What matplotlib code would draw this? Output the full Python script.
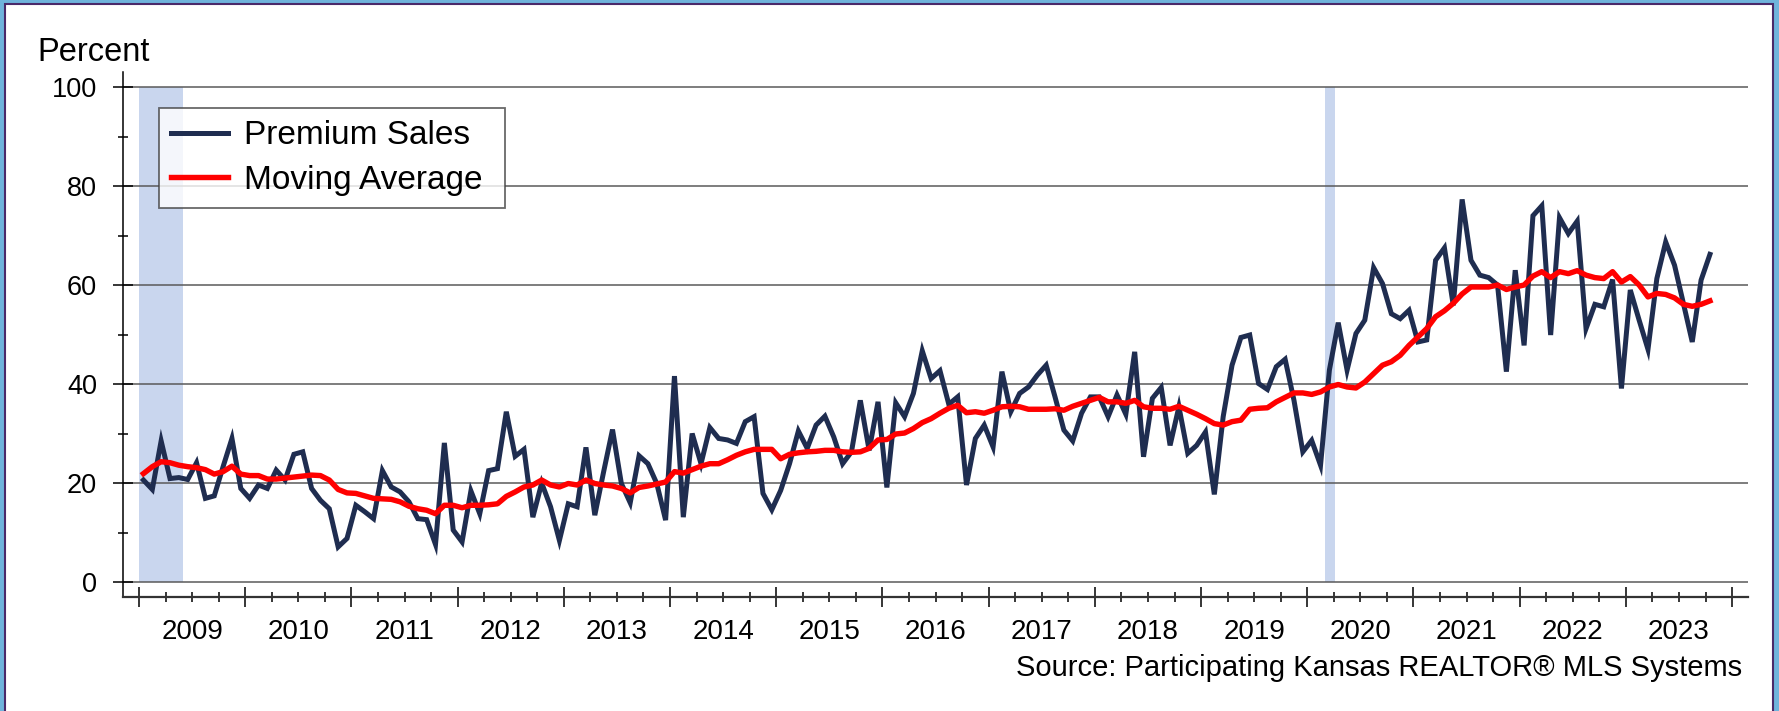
import matplotlib
matplotlib.use("Agg")
import matplotlib.pyplot as plt
from matplotlib.patches import Rectangle

plt.rcParams['font.family'] = ['Liberation Sans', 'DejaVu Sans']

# ---- data (monthly, Jan 2009 .. Oct 2023) ----
premium_sales = [
    20.6, 18.7, 28.5, 20.9, 21.1, 20.7, 24.1, 16.9, 17.4, 23.3, 29.0, 18.9,
    16.9, 19.6, 18.9, 22.6, 20.6, 25.8, 26.3, 18.9, 16.5, 14.8, 7.1, 8.8,
    15.5, 14.2, 12.8, 22.5, 19.2, 18.2, 16.2, 12.8, 12.6, 7.6, 28.1, 10.5,
    8.1, 18.4, 13.8, 22.5, 22.9, 34.4, 25.4, 26.8, 13.1, 20.0, 15.2, 8.4,
    15.8, 15.2, 27.2, 13.5, 22.3, 30.8, 19.9, 16.0, 25.5, 23.9, 19.9, 12.5,
    41.6, 13.1, 30.0, 23.9, 31.2, 29.0, 28.7, 28.0, 32.4, 33.4, 17.9, 14.6,
    18.5, 23.9, 30.5, 27.0, 31.7, 33.5, 29.3, 23.9, 26.3, 36.7, 26.6, 36.4,
    19.1, 36.2, 33.4, 38.1, 46.7, 41.1, 42.7, 35.9, 37.4, 19.6, 29.0, 31.7,
    27.3, 42.5, 34.4, 38.1, 39.4, 41.8, 43.8, 37.4, 30.7, 28.5, 34.1, 37.4,
    37.4, 33.4, 37.8, 33.9, 46.5, 25.3, 37.1, 39.3, 27.6, 35.4, 26.0, 27.6,
    30.3, 17.7, 33.4, 43.8, 49.4, 49.9, 40.1, 38.9, 43.5, 45.0, 36.7, 26.3,
    28.6, 23.6, 42.8, 52.4, 42.8, 50.2, 52.9, 63.5, 60.3, 54.2, 53.2, 54.9,
    48.5, 48.9, 65.0, 67.5, 55.9, 77.3, 65.0, 62.0, 61.5, 60.0, 42.5, 63.0,
    47.8, 74.0, 76.0, 49.9, 73.6, 70.4, 72.9, 51.2, 56.1, 55.6, 61.1, 39.1,
    59.0, 52.9, 47.0, 61.3, 68.7, 64.0, 56.3, 48.5, 61.0, 66.2,
]
moving_average = [
    21.9, 23.3, 24.3, 24.1, 23.6, 23.3, 23.1, 22.7, 21.8, 22.3, 23.4, 21.8,
    21.5, 21.5, 20.8, 20.8, 21.0, 21.2, 21.4, 21.6, 21.5, 20.6, 18.7, 18.0,
    17.9, 17.4, 16.9, 16.8, 16.7, 16.2, 15.3, 14.8, 14.5, 13.8, 15.5, 15.5,
    15.0, 15.5, 15.5, 15.6, 15.8, 17.3, 18.2, 19.2, 19.6, 20.6, 19.6, 19.2,
    19.9, 19.6, 20.6, 19.9, 19.6, 19.4, 18.9, 18.0, 19.1, 19.4, 19.8, 20.2,
    22.3, 22.0, 22.7, 23.4, 23.9, 23.9, 24.7, 25.6, 26.3, 26.8, 26.8, 26.8,
    24.9, 25.8, 26.1, 26.3, 26.4, 26.6, 26.6, 26.3, 26.2, 26.3, 27.0, 28.7,
    28.8, 29.9, 30.1, 31.0, 32.2, 33.0, 34.1, 35.1, 35.7, 34.2, 34.4, 34.1,
    34.7, 35.4, 35.5, 35.4, 34.9, 34.9, 34.9, 35.0, 34.7, 35.5, 36.1, 36.7,
    37.3, 36.4, 36.4, 36.1, 36.7, 35.4, 35.1, 35.1, 34.9, 35.5, 34.7, 33.9,
    33.0, 32.0, 31.7, 32.4, 32.7, 34.9, 35.1, 35.2, 36.4, 37.3, 38.2, 38.2,
    37.9, 38.4, 39.4, 39.9, 39.4, 39.2, 40.4, 42.1, 43.8, 44.5, 45.8, 47.8,
    49.5, 51.2, 53.6, 54.8, 56.3, 58.2, 59.6, 59.6, 59.6, 60.0, 59.1, 59.6,
    60.0, 61.8, 62.7, 61.5, 62.7, 62.3, 62.9, 62.0, 61.5, 61.3, 62.7, 60.6,
    61.7, 60.0, 57.6, 58.3, 58.1, 57.4, 56.1, 55.7, 56.1, 56.8,
]
years = list(range(2009, 2024))
recessions = [(0, 5), (134, 135.1)]   # months since Jan 2009
y_ticks = [0, 20, 40, 60, 80, 100]

months = [i + 0.5 for i in range(len(premium_sales))]

W, H = 1779, 711
fig = plt.figure(figsize=(W / 100, H / 100), dpi=100)
fig.patch.set_facecolor('#6fb4dc')
fig.add_artist(Rectangle((5 / W, -0.01), 1768 / W, 1 - 4 / H + 0.01,
                         transform=fig.transFigure, facecolor='white',
                         edgecolor='#4a2a6a', linewidth=1.5, zorder=0))

ax = fig.add_axes([123 / W, 114 / H, 1625 / W, 525.3 / H])
ax.set_facecolor('none')

ax.set_xlim(-1.81, 181.8)
ax.set_ylim(-3.03, 103.1)

for a, b in recessions:
    ax.fill_between([a, b], [0, 0], [100, 100], color='#c9d6ee', lw=0,
                    zorder=0)

for yv in y_ticks:
    ax.axhline(yv, color='#5a5a5a', lw=1.1, zorder=1)

ax.plot(months, premium_sales, color='#1f2d50', lw=3.6, zorder=3,
        solid_joinstyle='miter', label='Premium Sales')
ax.plot(months, moving_average, color='#ff0000', lw=3.9, zorder=4,
        label='Moving Average')

for s in ['top', 'right']:
    ax.spines[s].set_visible(False)
ax.spines['left'].set_color('black')
ax.spines['left'].set_linewidth(1.1)
ax.spines['bottom'].set_color('#333333')
ax.spines['bottom'].set_linewidth(1.6)

ax.set_xticks([12 * k for k in range(len(years) + 1)])
ax.set_xticks([3 * k for k in range(0, 61) if k % 4], minor=True)
ax.set_yticks(y_ticks)
ax.set_yticks([10, 30, 50, 70, 90], minor=True)
ax.tick_params(axis='x', which='major', direction='inout', length=14.4,
               width=1.1, color='black', labelbottom=False)
ax.tick_params(axis='x', which='minor', direction='inout', length=7.2,
               width=1.1, color='black')
ax.tick_params(axis='y', which='major', direction='inout', length=14.4,
               width=1.1, color='black', labelsize=19.5, pad=11.5)
ax.tick_params(axis='y', which='minor', direction='inout', length=7.2,
               width=1.1, color='black')

for k, yr in enumerate(years):
    ax.annotate(str(yr), xy=(12 * k + 6, 0), xycoords=('data', 'axes fraction'),
                xytext=(0, -30.2), textcoords='offset points',
                ha='center', va='baseline', fontsize=20)

leg = ax.legend(loc='upper left', bbox_to_anchor=(0.0222, 0.40, 0.2129, 0.5309),
                mode='expand', borderaxespad=0, fontsize=24, frameon=True,
                fancybox=False, handlelength=1.71, handletextpad=0.47,
                labelspacing=0.40, borderpad=0.37)
leg.get_frame().set_edgecolor('#444444')
leg.get_frame().set_linewidth(1.3)
leg.set_zorder(5)

fig.text(37.3 / W, 1 - 60.7 / H, 'Percent', fontsize=23.5, va='baseline',
         ha='left')
fig.text(1742 / W, 1 - 676 / H,
         'Source: Participating Kansas REALTOR\u00ae MLS Systems',
         fontsize=21, ha='right', va='baseline')

fig.savefig('out.png', dpi=100, facecolor=fig.get_facecolor())
